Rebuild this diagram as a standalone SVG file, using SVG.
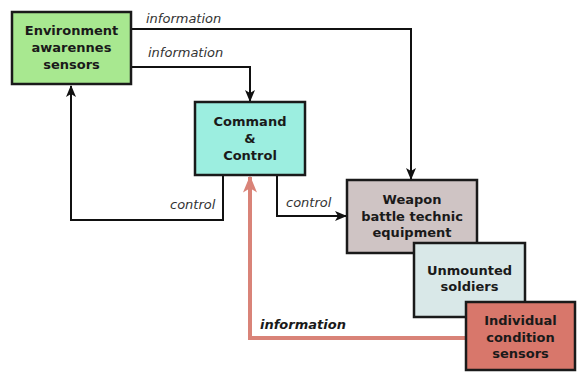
<svg xmlns="http://www.w3.org/2000/svg" width="577" height="373" viewBox="0 0 577 373">
<style>
.box{stroke:#1a1a1a;stroke-width:2.5}
.t{font-family:"DejaVu Sans",sans-serif;font-weight:bold;font-size:13px;fill:#1a1a1a;text-anchor:middle}
.l{font-family:"DejaVu Sans",sans-serif;font-style:italic;font-size:13px;fill:#333}
.c{fill:none;stroke:#111;stroke-width:2}
</style>
<defs>
<marker id="ah" viewBox="0 0 12 10" refX="11" refY="5" markerWidth="12" markerHeight="10" orient="auto" markerUnits="userSpaceOnUse">
<path d="M0,0 L12,5 L0,10 L3,5 Z" fill="#111"/>
</marker>
<marker id="ar" viewBox="0 0 12 10" refX="11" refY="5" markerWidth="17" markerHeight="14" orient="auto" markerUnits="userSpaceOnUse">
<path d="M0,0 L12,5 L0,10 L3,5 Z" fill="#d98378"/>
</marker>
</defs>
<rect width="577" height="373" fill="#fff"/>
<g id="connectors">
<path class="c" d="M131,29 H411 V179" marker-end="url(#ah)"/>
<path class="c" d="M131,67 H250 V101" marker-end="url(#ah)"/>
<path class="c" d="M223,175 V220 H71 V86" marker-end="url(#ah)"/>
<path class="c" d="M277,175 V216 H346" marker-end="url(#ah)"/>
<path fill="none" stroke="#d98378" stroke-width="4" d="M466,338 H250 V177" marker-end="url(#ar)"/>
<text class="l" x="146" y="23">information</text>
<text class="l" x="148" y="57">information</text>
<text class="l" x="170" y="209">control</text>
<text class="l" x="286" y="207">control</text>
<text class="l" x="260" y="329" style="font-weight:bold;fill:#1a1a1a">information</text>
</g>
<g id="env">
<rect class="box" x="12" y="12" width="119" height="72" fill="#a8e890"/>
<text class="t" x="71.5" y="35">Environment</text>
<text class="t" x="71.5" y="52">awarennes</text>
<text class="t" x="71.5" y="69">sensors</text>
</g>
<g id="command">
<rect class="box" x="195" y="102" width="110" height="73" fill="#9ceee0"/>
<text class="t" x="250" y="126">Command</text>
<text class="t" x="250" y="143">&amp;</text>
<text class="t" x="250" y="160">Control</text>
</g>
<g id="weapon">
<rect class="box" x="347" y="180" width="130" height="73" fill="#cfc4c4"/>
<text class="t" x="412" y="204">Weapon</text>
<text class="t" x="412" y="221">battle technic</text>
<text class="t" x="412" y="237">equipment</text>
</g>
<g id="unmounted">
<rect class="box" x="414" y="243" width="111" height="74" fill="#d9e8e8"/>
<text class="t" x="469.5" y="275">Unmounted</text>
<text class="t" x="469.5" y="291">soldiers</text>
</g>
<g id="individual">
<rect class="box" x="466" y="302" width="109" height="68" fill="#d8776b"/>
<text class="t" x="520.5" y="325">Individual</text>
<text class="t" x="520.5" y="342">condition</text>
<text class="t" x="520.5" y="358">sensors</text>
</g>
</svg>
